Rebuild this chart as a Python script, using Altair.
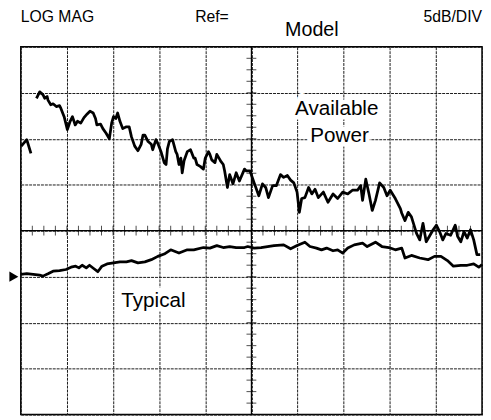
import altair as alt
import pandas as pd

# ---- Trace data: x in % of sweep span (0-100), y in dB (5 dB/div, ref marker = 0 dB)
ap_left_x = [0.1, 1.3, 2.2]
ap_left_db = [14.2, 14.9, 13.4]

ap_x = [3.4, 4.1, 4.8, 5.2, 5.7, 5.9, 6.5, 7.0, 7.7, 8.4,
        8.7, 9.4, 10.1, 10.7, 11.2, 11.8, 12.3, 13.0, 13.7, 14.4,
        15.0, 15.7, 16.2, 16.5, 17.3, 17.8, 18.5, 19.2, 19.7, 20.1,
        20.6, 21.0, 21.5, 22.1, 22.9, 23.5, 24.0, 24.7, 25.4, 26.1,
        26.5, 26.9, 27.6, 28.3, 28.6, 29.3, 29.7, 30.1, 30.4, 31.1,
        31.5, 31.8, 32.2, 32.9, 33.6, 33.9, 34.3, 34.7, 35.0, 35.4,
        36.1, 36.8, 37.5, 37.8, 38.2, 38.9, 39.6, 40.0, 40.7, 41.0,
        41.4, 42.1, 42.5, 43.2, 43.3, 43.9, 44.2, 44.8, 45.3, 46.0,
        46.7, 47.4, 48.5, 48.9, 49.7, 50.6, 51.6, 52.4, 53.1, 53.7,
        54.6, 55.4, 56.3, 57.0, 57.8, 58.5, 59.2, 59.9, 60.4, 60.9,
        61.6, 62.4, 63.1, 63.8, 64.5, 65.6, 66.6, 67.7, 68.7, 69.8,
        70.9, 71.9, 73.0, 73.7, 74.1, 74.8, 75.5, 76.2, 76.9, 77.8,
        78.7, 79.4, 80.1, 81.2, 82.3, 82.6, 83.3, 84.0, 84.7, 85.8,
        86.5, 87.2, 87.9, 88.6, 89.4, 90.1, 90.8, 91.5, 92.2, 93.2,
        94.2, 94.7, 95.4, 96.1, 96.8, 97.5, 98.2, 98.9, 99.6]
ap_db = [19.4, 20.1, 19.8, 19.4, 19.6, 19.2, 18.7, 18.8, 18.5, 18.6,
         18.3, 17.4, 16.0, 16.9, 17.4, 16.5, 16.9, 16.7, 17.3, 17.7,
         18.0, 17.8, 17.2, 16.5, 16.6, 16.1, 15.6, 15.0, 16.7, 17.4,
         17.2, 17.8, 16.9, 16.1, 16.3, 16.3, 15.2, 14.2, 13.7, 14.4,
         15.4, 15.4, 14.7, 14.4, 13.8, 14.9, 14.5, 14.0, 13.6, 12.4,
         12.2, 13.9, 14.7, 14.9, 13.6, 13.3, 12.2, 12.9, 11.3, 12.6,
         13.6, 13.8, 12.9, 12.9, 12.2, 12.0, 11.7, 12.9, 13.6, 13.3,
         12.7, 12.4, 13.3, 12.7, 12.6, 12.2, 11.5, 9.7, 11.1, 10.1,
         11.3, 10.4, 11.7, 11.5, 11.5, 10.2, 8.8, 10.1, 9.7, 8.6,
         9.9, 9.9, 11.1, 10.8, 11.0, 10.5, 10.2, 9.2, 7.0, 8.5,
         8.6, 9.7, 9.0, 9.5, 8.6, 9.2, 8.1, 9.0, 8.5, 9.2,
         9.0, 9.4, 9.4, 9.9, 8.3, 10.6, 9.0, 7.2, 8.3, 10.2,
         9.7, 8.8, 9.4, 8.5, 7.4, 6.9, 6.1, 7.0, 6.5, 4.7,
         4.0, 5.8, 3.8, 4.4, 5.1, 5.6, 4.9, 4.0, 4.7, 4.5,
         5.6, 4.4, 3.8, 4.9, 4.2, 5.1, 4.0, 2.4, 2.4]

typ_x = [0.0, 1.3, 2.7, 4.1, 4.8, 5.9, 7.0, 8.4, 9.8, 10.9,
         11.9, 12.6, 13.3, 14.2, 14.9, 15.8, 16.7, 17.6, 18.7, 20.1,
         21.5, 22.9, 24.0, 25.4, 26.9, 28.3, 29.7, 31.1, 32.5, 34.3,
         36.1, 37.5, 39.6, 41.0, 42.5, 43.9, 45.3, 46.7, 48.5, 49.2,
         50.6, 52.1, 53.5, 54.9, 57.0, 58.5, 59.9, 61.6, 62.7, 64.1,
         65.2, 66.3, 67.7, 68.7, 69.8, 70.9, 72.3, 74.1, 75.1, 76.9,
         78.3, 79.8, 81.2, 82.6, 83.3, 84.7, 86.5, 88.3, 89.7, 91.1,
         92.5, 93.8, 95.4, 96.8, 98.2, 99.3, 100.0]
typ_db = [0.25, 0.32, 0.25, 0.17, 0.06, 0.32, 0.60, 0.67, 0.78, 1.03,
          1.14, 0.96, 1.24, 0.96, 1.24, 0.89, 0.54, 1.14, 1.39, 1.50,
          1.61, 1.61, 1.75, 1.50, 1.61, 1.85, 2.21, 2.46, 2.92, 2.57,
          2.92, 2.92, 3.17, 3.11, 3.38, 3.17, 3.28, 3.17, 3.17, 3.28,
          3.11, 3.17, 3.28, 3.38, 3.46, 3.03, 3.38, 3.75, 3.28, 3.11,
          2.92, 3.11, 2.82, 2.92, 2.57, 3.11, 3.46, 3.64, 3.28, 3.75,
          3.28, 3.17, 2.92, 3.11, 2.03, 2.31, 2.03, 1.85, 2.21, 2.21,
          1.75, 1.14, 1.24, 1.24, 1.39, 1.03, 1.32]

# ---- Graticule: 10 x 8 divisions, 5 dB/div
x_grid = [0, 10, 20, 30, 40, 50, 60, 70, 80, 90, 100]
y_grid = [-15, -10, -5, 0, 5, 10, 15, 20, 25]
x_center = 50
y_center = 5
ref_level = 0

# ---- Texts
header_text = ["LOG MAG", "Ref=", "5dB/DIV"]
header_x = [0, 37.8, 100]
header_y = [28.2, 28.2, 28.2]
header_align = ["left", "left", "right"]

model_text = ["Model"]
model_x = [57.3]
model_y = [26.8]

note_text = ["Available", "Power", "Typical"]
note_x = [68.5, 69.1, 21.8]
note_y = [18.2, 15.3, -2.7]
note_align = ["center", "center", "left"]

trace = pd.DataFrame({
    "x": ap_left_x + ap_x + typ_x,
    "db": ap_left_db + ap_db + typ_db,
    "seg": ["ap0"] * len(ap_left_x) + ["ap1"] * len(ap_x) + ["typ"] * len(typ_x),
})
trace["order"] = range(len(trace))

minor_x = [i * 2.5 for i in range(1, 40)]
minor_y = [-15 + i * 1.25 for i in range(1, 32)]

xscale = alt.Scale(domain=[0, 100], nice=False, zero=False)
yscale = alt.Scale(domain=[-15, 25], nice=False, zero=False)
xaxis = alt.Axis(values=x_grid, grid=True, labels=False, ticks=False, domain=False,
                 title=None, gridColor="#1a1a1a", gridDash=[3, 1], gridWidth=1, gridOpacity=1)
yaxis = alt.Axis(values=y_grid, grid=True, labels=False, ticks=False, domain=False,
                 title=None, gridColor="#1a1a1a", gridDash=[3, 1], gridWidth=1, gridOpacity=1)

X = lambda f: alt.X(f, scale=xscale, axis=xaxis)
Y = lambda f: alt.Y(f, scale=yscale, axis=yaxis)

base_lines = alt.Chart(trace).mark_line(color="black", strokeWidth=2.8,
                                        strokeJoin="round").encode(
    x=X("x:Q"), y=Y("db:Q"), detail="seg:N", order="order:Q")

center_h = alt.Chart(pd.DataFrame({"y": [y_center]})).mark_rule(
    color="black", strokeWidth=1.2).encode(y=Y("y:Q"))
center_v = alt.Chart(pd.DataFrame({"x": [x_center]})).mark_rule(
    color="black", strokeWidth=1.2).encode(x=X("x:Q"))

ticks_h = alt.Chart(pd.DataFrame({"x": minor_x, "y": [y_center] * len(minor_x)})).mark_tick(
    orient="vertical", size=10, thickness=1, color="black").encode(x=X("x:Q"), y=Y("y:Q"))
ticks_v = alt.Chart(pd.DataFrame({"y": minor_y, "x": [x_center] * len(minor_y)})).mark_tick(
    orient="horizontal", size=10, thickness=1, color="black").encode(x=X("x:Q"), y=Y("y:Q"))

marker = alt.Chart(pd.DataFrame({"x": [-1.5], "y": [ref_level]})).mark_point(
    shape="triangle-right", filled=True, size=110, color="black", opacity=1, clip=False).encode(
    x=X("x:Q"), y=Y("y:Q"))

hdr_df = pd.DataFrame({"t": header_text, "x": header_x, "y": header_y, "a": header_align})
headers = []
for al in ["left", "right"]:
    headers.append(alt.Chart(hdr_df[hdr_df.a == al]).mark_text(
        align=al, baseline="middle", fontSize=16, font="Liberation Sans",
        color="black", clip=False).encode(x=X("x:Q"), y=Y("y:Q"), text="t:N"))
headers.append(alt.Chart(pd.DataFrame({"t": model_text, "x": model_x, "y": model_y})).mark_text(
    align="left", baseline="middle", fontSize=20, font="Liberation Sans",
    color="black", clip=False).encode(x=X("x:Q"), y=Y("y:Q"), text="t:N"))

note_df = pd.DataFrame({"t": note_text, "x": note_x, "y": note_y, "a": note_align})
halos, notes = [], []
for al in ["left", "center"]:
    sub = note_df[note_df.a == al]
    halos.append(alt.Chart(sub).mark_text(
        align=al, baseline="middle", fontSize=21, font="Liberation Sans",
        color="white", stroke="white", strokeWidth=9).encode(
        x=X("x:Q"), y=Y("y:Q"), text="t:N"))
    notes.append(alt.Chart(sub).mark_text(
        align=al, baseline="middle", fontSize=21, font="Liberation Sans",
        color="black").encode(x=X("x:Q"), y=Y("y:Q"), text="t:N"))

chart = alt.layer(center_h, center_v, ticks_h, ticks_v, *halos, base_lines,
                  *notes, marker, *headers).properties(
    width=469, height=374,
    padding={"left": 13, "top": 36, "right": 1, "bottom": 0},
    autosize=alt.AutoSizeParams(type="none"),
    background="white",
).configure_view(stroke="black", strokeWidth=1.5)

chart.save("out.html", embed_options={"renderer": "svg", "actions": False})
